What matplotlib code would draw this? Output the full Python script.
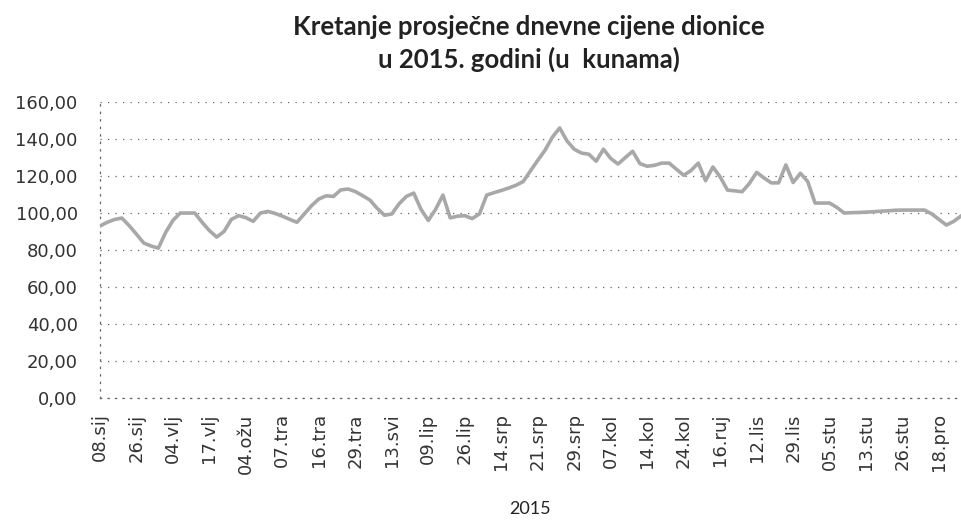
import matplotlib
matplotlib.use("Agg")
import matplotlib.pyplot as plt
import numpy as np

# average daily share price (kn), one value per trading-day category
PRICES = [
    93.0, 95.0, 96.5, 97.3, 93.2, 88.6, 83.8, 82.2, 81.0, 89.5,
    96.0, 100.0, 100.0, 100.0, 95.0, 90.5, 87.0, 90.0, 96.5, 98.6,
    97.5, 95.5, 100.0, 100.9, 99.8, 98.3, 96.6, 95.0, 99.5, 104.0,
    107.6, 109.3, 109.0, 112.5, 113.0, 111.6, 109.4, 107.0, 102.5, 98.8,
    99.5, 105.0, 109.0, 110.8, 102.0, 96.0, 102.0, 109.7, 97.4, 98.3,
    98.6, 97.0, 99.5, 109.7, 111.0, 112.2, 113.5, 115.0, 117.0, 122.8,
    128.5, 134.0, 141.0, 146.0, 139.0, 134.5, 132.4, 131.8, 128.0, 134.5,
    129.5, 126.5, 130.0, 133.4, 126.7, 125.3, 125.8, 127.0, 127.0, 123.7,
    120.4, 123.0, 127.0, 117.5, 124.9, 119.5, 112.4, 112.0, 111.5, 116.0,
    122.0, 119.0, 116.3, 116.3, 126.0, 116.5, 121.5, 117.0, 105.4, 105.4,
    105.4, 103.0, 100.0, 100.2, 100.3, 100.5, 100.7, 101.0, 101.2, 101.5,
    101.6, 101.6, 101.6, 101.6, 99.5, 96.5, 93.5, 95.5, 98.4,
]
TICK_LABELS = [
    "08.sij", "26.sij", "04.vlj", "17.vlj", "04.ožu", "07.tra", "16.tra",
    "29.tra", "13.svi", "09.lip", "26.lip", "14.srp", "21.srp", "29.srp",
    "07.kol", "14.kol", "24.kol", "16.ruj", "12.lis", "29.lis", "05.stu",
    "13.stu", "26.stu", "18.pro",
]
LABEL_STEP = 5
Y_TICKS = [0, 20, 40, 60, 80, 100, 120, 140, 160]

TITLE = "Kretanje prosječne dnevne cijene dionice\nu 2015. godini (u  kunama)"

fig = plt.figure(figsize=(9.61, 5.22), dpi=100)
ax = fig.add_axes([0.104, 0.2375, 0.896, 0.567])

x = np.arange(len(PRICES))
ax.plot(x, PRICES, color="#a8a8a8", lw=2.6, solid_joinstyle="round", zorder=3)

ax.set_xlim(0, len(PRICES) - 1)
ax.set_ylim(0, 160)
ax.set_yticks(Y_TICKS)
ax.set_yticklabels([f"{v:.2f}".replace(".", ",") for v in Y_TICKS])
ax.set_xticks(np.arange(len(TICK_LABELS)) * LABEL_STEP)
ax.set_xticklabels(TICK_LABELS, rotation=90)
ax.tick_params(axis="y", length=0, pad=16, labelsize=13, labelcolor="#333333")
ax.tick_params(axis="x", length=0, pad=11, labelsize=13, labelcolor="#333333")

dots = (0, (1, 5))
ax.grid(axis="y", color="#666666", linestyle=dots, lw=0.9)
for side in ("top", "right"):
    ax.spines[side].set_visible(False)
for side in ("left", "bottom"):
    ax.spines[side].set_linestyle(dots)
    ax.spines[side].set_color("#666666")
    ax.spines[side].set_linewidth(0.9)

ax.set_xlabel("2015", family="Lato", fontsize=13, labelpad=20, color="#222222")
fig.text(0.55, 0.972, TITLE, ha="center", va="top", family="Lato",
         fontweight="bold", fontsize=18.5, linespacing=1.4, color="#222222")

fig.savefig("out.png", dpi=100)
